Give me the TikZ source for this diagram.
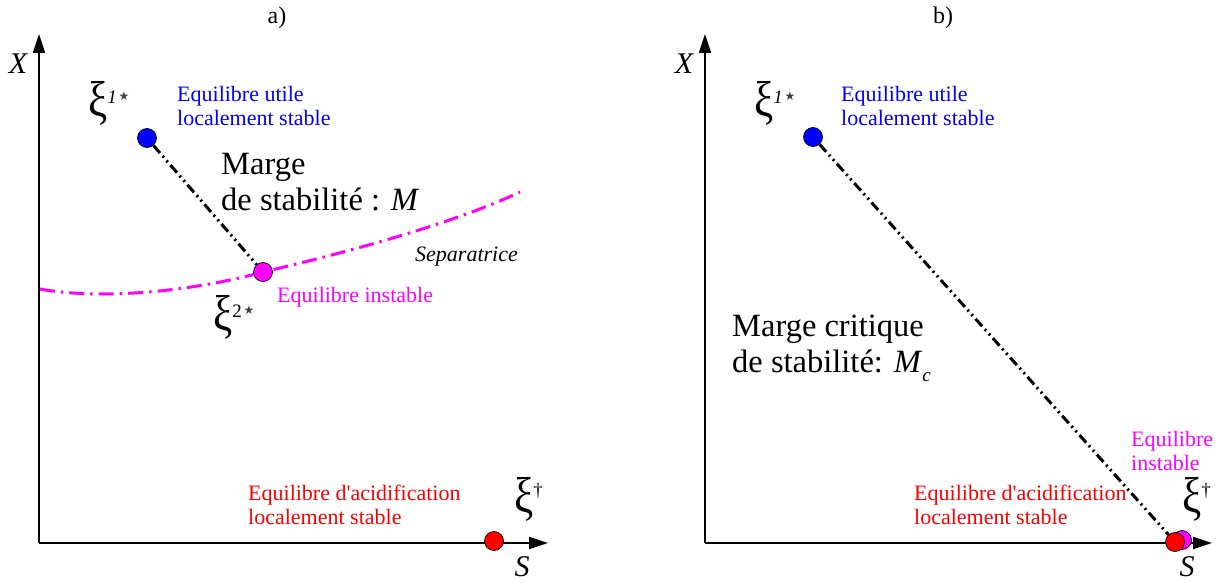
\documentclass[tikz,border=0pt]{standalone}
\usepackage{fontspec}
\setmainfont{Liberation Serif}
\newfontfamily\dejavu{DejaVu Sans}
\usetikzlibrary{arrows.meta}
\definecolor{eqblue}{RGB}{0,0,255}
\definecolor{eqmag}{RGB}{255,0,255}
\definecolor{eqred}{RGB}{255,0,0}
\pgfdeclarelayer{bg}
\pgfsetlayers{bg,main}
\newcommand\xibig{\scalebox{1}[1.17]{\fontsize{43}{43}\selectfont ξ}}
\newcommand\supstar{\raisebox{16pt}{\dejavu\fontsize{12}{12}\selectfont\color{black!75}★}}
\newcommand\supone{\raisebox{13pt}{\fontsize{19}{19}\selectfont\itshape 1}}
\newcommand\suptwo{\raisebox{13pt}{\fontsize{19}{19}\selectfont 2}}
\newcommand\supdag{\raisebox{16pt}{\fontsize{19}{19}\selectfont †}}
\begin{document}
\begin{tikzpicture}[x=1pt,y=-1pt,
  axis/.style={line width=1.8pt,-{Triangle[length=19pt,width=12pt]}},
  eqpt/.style={circle,draw=black,line width=0.7pt,minimum size=19pt,inner sep=0pt},
  margeline/.style={black,line width=3pt,dash pattern=on 10pt off 4pt on 2pt off 4pt on 2pt off 4pt},
  sepline/.style={eqmag,line width=3pt,dash pattern=on 15pt off 6pt on 2.5pt off 6pt},
  lab/.style={anchor=west,inner sep=0pt,align=left,font=\fontsize{22}{24.5}\selectfont},
  biglab/.style={anchor=west,inner sep=0pt,align=left,font=\fontsize{32.5}{36}\selectfont},
  axlab/.style={inner sep=0pt,font=\fontsize{30}{30}\selectfont\itshape},
  xilab/.style={anchor=base west,inner sep=0pt},
  title/.style={inner sep=0pt,font=\fontsize{24}{24}\selectfont}
]
\useasboundingbox (0,0) rectangle (1228,583);

% ---------- panel a ----------
\node[title] (ta) at (277,18) {a)};
\coordinate (oa) at (39,543);
\coordinate (ya) at (39,34);
\coordinate (sa) at (548,543);
\draw[axis] (oa) -- (ya);
\draw[axis] (oa) -- (sa);
\node[axlab] (Xa) at (18,64) {X};
\node[axlab] (Sa) at (522,567) {S};

\node[eqpt,fill=eqblue] (b1) at (147,138) {};
\node[eqpt,fill=eqmag] (m1) at (263,272) {};
\node[eqpt,fill=eqred] (r1) at (494,541) {};

\begin{pgfonlayer}{bg}
\draw[sepline] (40,289) .. controls (100,300) and (190,292) .. (m1.center)
  .. controls (340,254) and (450,225) .. (520,192);
\end{pgfonlayer}
\draw[margeline] (b1) -- (m1);

\node[xilab] (xi1a) at (88,117) {\xibig\supone\,\supstar};
\node[xilab] (xi2a) at (213,330) {\xibig\suptwo\,\supstar};
\node[xilab] (xida) at (514,512) {\xibig\supdag};

\node[lab,eqblue] (ua) at (177,106) {Equilibre utile\\localement stable};
\node[biglab] (ma) at (221,182) {Marge\\de stabilité : \textit{M}};
\node[inner sep=0pt,anchor=base west,font=\fontsize{22}{22}\selectfont\itshape] (sep) at (415,261) {Separatrice};
\node[lab,eqmag] (ia) at (277,297) {Equilibre instable};
\node[lab,eqred] (aa) at (248,505) {Equilibre d\textquotesingle acidification\\localement stable};

% ---------- panel b ----------
\node[title] (tb) at (943,18) {b)};
\coordinate (ob) at (705,543);
\coordinate (yb) at (705,34);
\coordinate (sb) at (1212,543);
\draw[axis] (ob) -- (yb);
\draw[axis] (ob) -- (sb);
\node[axlab] (Xb) at (684,64) {X};
\node[axlab] (Sb) at (1187,567) {S};

\node[eqpt,fill=eqblue] (b2) at (813,137) {};
\node[eqpt,fill=eqmag] (m2) at (1182,540) {};
\node[eqpt,fill=eqred] (r2) at (1175,542) {};
\draw[margeline] (b2) -- (r2);

\node[xilab] (xi1b) at (754,117) {\xibig\supone\,\supstar};
\node[xilab] (xidb) at (1182,512) {\xibig\supdag};

\node[lab,eqblue] (ub) at (841,106) {Equilibre utile\\localement stable};
\node[biglab] (mb) at (732,348) {Marge critique\\de stabilité: \textit{M}\raisebox{-9pt}{\fontsize{19}{19}\selectfont\itshape c}};
\node[lab,eqmag] (ib) at (1131,451) {Equilibre\\instable};
\node[lab,eqred] (ab) at (914,505) {Equilibre d\textquotesingle acidification\\localement stable};
\end{tikzpicture}
\end{document}
